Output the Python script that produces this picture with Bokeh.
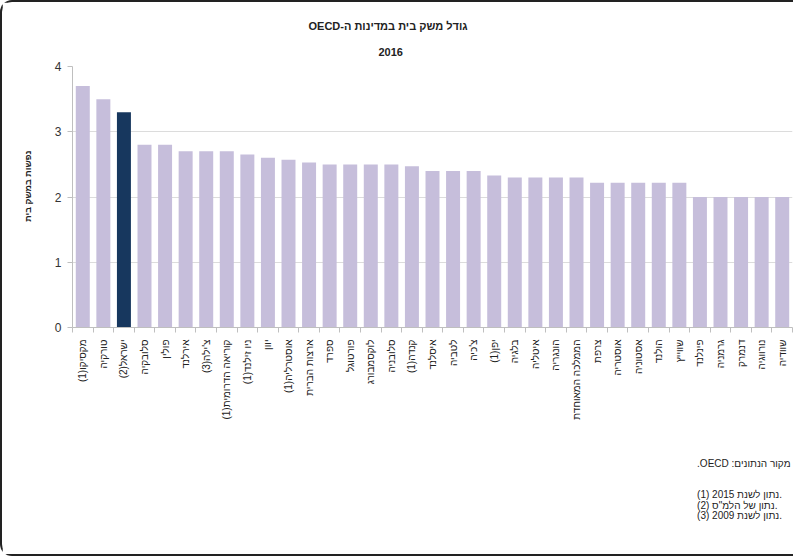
import math
from bokeh.plotting import figure
from bokeh.models import ColumnDataSource, Range1d, FixedTicker, Title
from bokeh.embed import file_html
from bokeh.resources import INLINE

# ---- data ----
countries = [
    "מקסיקו(1)", "טורקיה", "ישראל(2)", "סלובקיה", "פולין", "אירלנד", "צ'ילה(3)",
    "קוריאה הדרומית(1)", "ניו זילנד(1)", "יוון", "אוסטרליה(1)", "ארצות הברית",
    "ספרד", "פורטוגל", "לוקסמבורג", "סלובניה", "קנדה(1)", "איסלנד", "לטביה",
    "צ'כיה", "יפן(1)", "בלגיה", "איטליה", "הונגריה", "הממלכה המאוחדת", "צרפת",
    "אוסטריה", "אסטוניה", "הולנד", "שווייץ", "פינלנד", "גרמניה", "דנמרק",
    "נורווגיה", "שוודיה",
]
persons = [
    3.7, 3.5, 3.3, 2.8, 2.8, 2.7, 2.7,
    2.7, 2.65, 2.6, 2.57, 2.53,
    2.5, 2.5, 2.5, 2.5, 2.47, 2.4, 2.4,
    2.4, 2.33, 2.3, 2.3, 2.3, 2.3, 2.22,
    2.22, 2.22, 2.22, 2.22, 2.0, 2.0, 2.0,
    2.0, 2.0,
]
highlight = "ישראל(2)"
y_ticks = [0, 1, 2, 3, 4]
title_lines = ["גודל משק בית במדינות ה-OECD", "2016"]
y_title = "נפשות במשק בית"
source_note = "מקור הנתונים: OECD."
footnotes = ["(1) נתון לשנת 2015.", "(2) נתון של הלמ\"ס.", "(3) נתון לשנת 2009."]

LAV = "#c6bedb"
NAVY = "#17375e"
FONT = "Liberation Sans"
TXT = "#222222"


def rtl(s):
    return "\u202b" + s + "\u202c"


idx = list(range(len(countries)))
colors = [NAVY if c == highlight else LAV for c in countries]
src = ColumnDataSource(dict(x=idx, top=persons, color=colors))

W, H = 793, 556
p = figure(width=W, height=H, output_backend="svg", toolbar_location=None,
           x_range=Range1d(-0.5, len(countries) - 0.5), y_range=Range1d(0, 4),
           min_border_left=70, min_border_right=3, min_border_top=64,
           min_border_bottom=227)
p.styles = {"border-top": "2px solid #222", "border-left": "2px solid #222",
            "border-bottom": "2px solid #222", "border-right": "0px none",
            "border-top-left-radius": "12px", "border-bottom-left-radius": "12px",
            "border-top-right-radius": "0px", "border-bottom-right-radius": "0px"}
p.outline_line_color = None
p.background_fill_color = "white"
p.border_fill_color = "white"

p.vbar(x="x", top="top", width=0.68, fill_color="color", line_color=None, source=src)

# grid
p.xgrid.grid_line_color = None
p.ygrid.grid_line_color = "#dcdcdc"
p.ygrid.grid_line_width = 1

# y axis
p.yaxis.ticker = FixedTicker(ticks=y_ticks)
p.yaxis.axis_line_color = "#bfbfbf"
p.yaxis.major_tick_line_color = "#bfbfbf"
p.yaxis.major_tick_out = 5
p.yaxis.major_tick_in = 0
p.yaxis.minor_tick_line_color = None
p.yaxis.major_label_text_font = FONT
p.yaxis.major_label_text_font_size = "12px"
p.yaxis.major_label_text_color = "#333333"
p.yaxis.major_label_standoff = 6

# x axis
p.xaxis.ticker = FixedTicker(ticks=idx, minor_ticks=[i - 0.5 for i in idx] + [len(idx) - 0.5])
p.xaxis.major_label_overrides = {i: rtl(c) for i, c in zip(idx, countries)}
p.xaxis.major_label_orientation = math.pi / 2
p.xaxis.major_tick_line_color = None
p.xaxis.minor_tick_line_color = "#bfbfbf"
p.xaxis.minor_tick_out = 5
p.xaxis.minor_tick_in = 0
p.xaxis.axis_line_color = "#bfbfbf"
p.xaxis.major_label_text_font = FONT
p.xaxis.major_label_text_font_size = "10px"
p.xaxis.major_label_text_color = TXT
p.xaxis.major_label_standoff = 6

# titles (above): main line outermost, "2016" nearest to the frame
p.title.text = rtl(title_lines[0])
p.title.align = "left"
p.title.offset = 236
p.title.standoff = 6
p.title.text_font = FONT
p.title.text_font_size = "11px"
p.title.text_font_style = "bold"
p.title.text_color = TXT
p.add_layout(Title(text=title_lines[1], align="left", offset=306, standoff=22,
                   text_font=FONT, text_font_size="11px", text_font_style="bold",
                   text_color=TXT), "above")

# y axis title (left side, outside the axis)
p.add_layout(Title(text=rtl(y_title), align="right", offset=84, standoff=36,
                   vertical_align="middle", text_font=FONT, text_font_size="9px",
                   text_font_style="bold", text_color=TXT), "left")

# source and footnotes (below)
note_text = "\n".join([rtl(source_note), "", ""] + footnotes)
p.add_layout(Title(text=note_text, align="right", offset=2, standoff=71,
                   vertical_align="top", text_font=FONT, text_font_size="10px",
                   text_font_style="normal", text_line_height=0.95,
                   text_color=TXT), "below")

open("out.html", "w").write(file_html(p, INLINE))
